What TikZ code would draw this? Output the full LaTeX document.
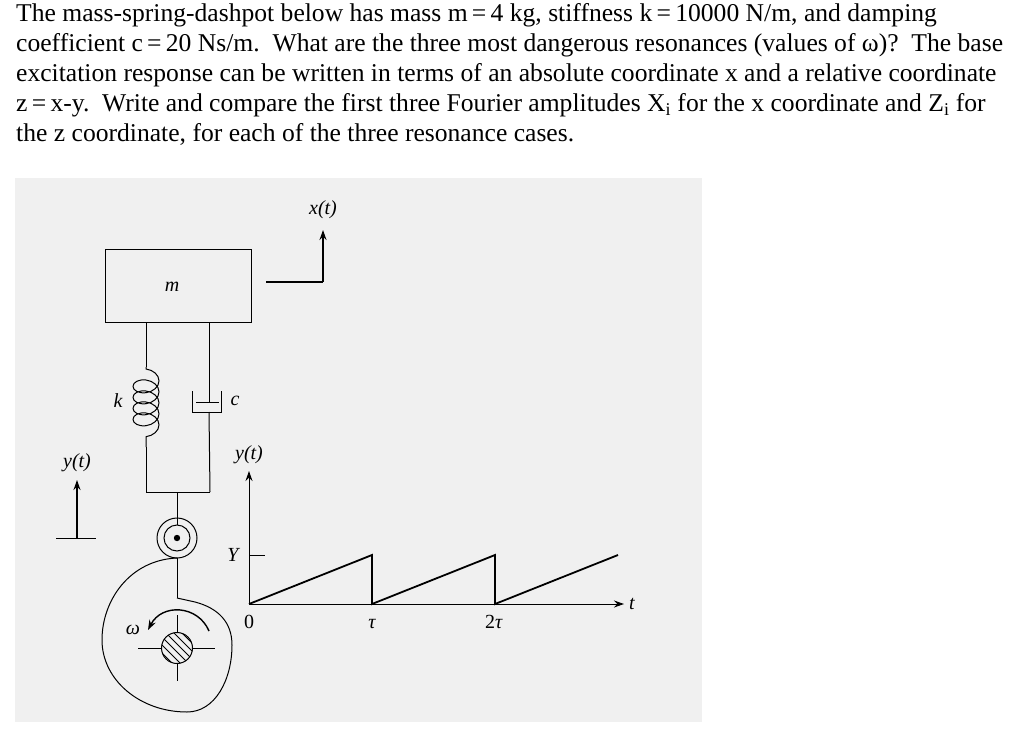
\documentclass[tikz,border=0pt]{standalone}
\usepackage{fontspec}
\setmainfont{Liberation Serif}
\usetikzlibrary{arrows.meta,decorations.pathmorphing}
\begin{document}
\begin{tikzpicture}[x=1pt,y=-1pt,
  txt/.style={anchor=base west,inner sep=0pt,font=\fontsize{25.6}{30}\selectfont},
  lab/.style={inner sep=0pt,font=\fontsize{20}{22}\selectfont\itshape},
  rlab/.style={inner sep=0pt,font=\fontsize{20}{22}\selectfont},
  ln/.style={line width=1pt},
  thick2/.style={line width=1.8pt},
  arr/.style={-{Stealth[length=10pt,width=7pt]}}]
\useasboundingbox (0,0) rectangle (1024,730);
\fill[white] (0,0) rectangle (1024,730);
\node[txt] (l1) at (16,22) {The mass-spring-dashpot below has mass m\,=\,4 kg, stiffness k\,=\,10000 N/m, and damping};
\node[txt] (l2) at (16,52) {coefficient c\,=\,20 Ns/m.\ \ What are the three most dangerous resonances (values of ω)?\ \ The base};
\node[txt] (l3) at (16,82) {excitation response can be written in terms of an absolute coordinate x and a relative coordinate};
\node[txt] (l4) at (16,112) {z\,=\,x-y.\ \ Write and compare the first three Fourier amplitudes X\textsubscript{i} for the x coordinate and Z\textsubscript{i} for};
\node[txt] (l5) at (16,142) {the z coordinate, for each of the three resonance cases.};
\fill[black!6] (15,178) rectangle (702,722);
% mass
\node[draw,ln,minimum width=146pt,minimum height=73pt,inner sep=0pt] (m) at (178,285.5) {};
\node[lab] (ml) at (172,287) {m};
\coordinate (xa) at (266,282); \coordinate (xb) at (323,282); \coordinate (xc) at (323,230);
\draw[thick2] (xa)--(xb);
\draw[thick2,arr] (xb)--(xc);
\node[lab] (xl) at (323,210) {x(t)};
% spring
\coordinate (s1) at (146,322); \coordinate (s2) at (146,367); \coordinate (s3) at (146,447); \coordinate (s4) at (146,492);
\draw[ln] (s1)--(s2);
\draw[ln,decorate,decoration={coil,aspect=0.7,segment length=11pt,amplitude=13pt,pre length=2pt,post length=2pt}] (s2)--(s3);
\draw[ln] (s3)--(s4);
\node[lab] (kl) at (118,401) {k};
% dashpot
\coordinate (d1) at (209,322); \coordinate (d2) at (209,402); \coordinate (d3) at (209,412); \coordinate (d4) at (210,492);
\draw[ln] (d1)--(d2);
\draw[ln] (196,402)--(219,402);
\draw[ln] (192,391)--(192,412)--(221,412)--(221,391);
\draw[ln] (d3)--(d4);
\node[lab] (cl) at (235,401) {c};
% frame bottom
\draw[ln] (s4)--(d4);
\coordinate (f1) at (177,492);
\node[draw,ln,circle,minimum size=40pt,inner sep=0pt] (ro) at (177,538) {};
\node[draw,ln,circle,minimum size=26pt,inner sep=0pt] (ri) at (177,538) {};
\fill (177,538) circle (3.2);
\draw[ln] (f1)--(ri.north);
% cam
\draw[ln] (177,558)--(177,598);
\draw[ln] (177,558) .. controls (130,560) and (102,600) .. (102,640)
  .. controls (102,680) and (140,712) .. (187,712)
  .. controls (215,712) and (232,680) .. (232,645)
  .. controls (232,622) and (218,608) .. (195,602) -- (177,598);
\draw[ln] (138,648)--(215,648);
\draw[ln] (177,615)--(177,681);
\begin{scope}
\clip (177,648) circle (15.5);
\fill[black!6] (177,648) circle (15.5);
\foreach \d in {-20,-12,-4,4,12,20}
  \draw[ln] (177+\d-20,648-20)--(177+\d+20,648+20);
\end{scope}
\draw[ln] (177,648) circle (15.5);
\draw[line width=1.4pt,arr] (209,631) .. controls (198,605) and (162,603) .. (148,630);
\node[lab] (wl) at (133,630) {ω};
% y(t) left
\coordinate (ya) at (77,538); \coordinate (yb) at (77,480);
\draw[thick2,arr] (ya)--(yb);
\draw[ln] (56,538)--(96,538);
\node[lab] (yl) at (77,463) {y(t)};
% plot
\coordinate (o) at (249,604);
\coordinate (yt) at (249,471);
\coordinate (te) at (624,604);
\draw[ln,arr] (o)--(yt);
\draw[ln,arr] (o)--(te);
\node[lab] (tl) at (632,604) {t};
\node[lab] (ytl) at (249,455) {y(t)};
\draw[ln] (249,555)--(265,555);
\node[lab] (Yl) at (233,555) {Y};
\draw[thick2,line join=miter] (o)--(372,555)--(372,604)--(495,555)--(495,604)--(618,555);
\node[rlab] (z0) at (249,622) {0};
\node[lab] (t1) at (372,624) {τ};
\node[rlab] (t2) at (494,622) {2\textit{τ}};
\end{tikzpicture}
\end{document}
